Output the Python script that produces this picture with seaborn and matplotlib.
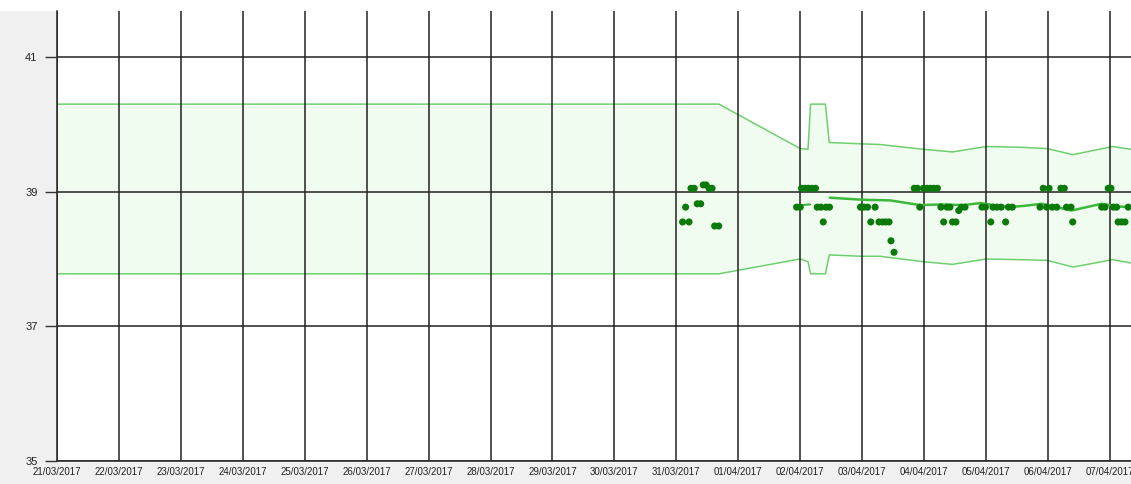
import matplotlib
matplotlib.use("Agg")
import matplotlib.pyplot as plt
import matplotlib.dates as mdates
from matplotlib.patches import Rectangle
import pandas as pd
import seaborn as sns

# Normal range band (upper / lower limits)
band_times = [
    "2017-03-21 00:00", "2017-03-31 16:30", "2017-04-02 00:00", "2017-04-02 03:00",
    "2017-04-02 04:00", "2017-04-02 09:45", "2017-04-02 11:15", "2017-04-03 00:00",
    "2017-04-03 07:00", "2017-04-03 23:30", "2017-04-04 11:00", "2017-04-05 00:00",
    "2017-04-05 13:00", "2017-04-05 23:30", "2017-04-06 09:45", "2017-04-07 01:00",
    "2017-04-07 08:10",
]
band_upper = [40.30, 40.30, 39.64, 39.63, 40.30, 40.30, 39.73, 39.71,
              39.70, 39.63, 39.59, 39.67, 39.66, 39.64, 39.55, 39.67, 39.63]
band_lower = [37.78, 37.78, 38.00, 37.96, 37.78, 37.78, 38.06, 38.04,
              38.04, 37.96, 37.92, 38.00, 37.99, 37.98, 37.88, 37.99, 37.94]

# Rolling mean line
mean_times = [
    "2017-04-02 11:30", "2017-04-03 00:00", "2017-04-03 10:50", "2017-04-03 22:30",
    "2017-04-04 06:15", "2017-04-04 15:10", "2017-04-04 21:45", "2017-04-05 08:30",
    "2017-04-05 15:00", "2017-04-05 21:30", "2017-04-06 09:10", "2017-04-06 20:45",
    "2017-04-07 03:05", "2017-04-07 08:10",
]
mean_values = [38.91, 38.88, 38.87, 38.80, 38.81, 38.80, 38.83, 38.77,
               38.79, 38.82, 38.72, 38.82, 38.78, 38.77]

# Short early mean segment
seg_times = ["2017-04-02 00:00", "2017-04-02 03:50"]
seg_values = [38.80, 38.81]

# Individual readings
reading_times = [
    "2017-03-31 02:25", "2017-03-31 03:35", "2017-03-31 04:55", "2017-03-31 05:40",
    "2017-03-31 06:55", "2017-03-31 08:05", "2017-03-31 09:25", "2017-03-31 10:25",
    "2017-03-31 11:30", "2017-03-31 12:40", "2017-03-31 13:50", "2017-03-31 14:50",
    "2017-03-31 16:25",
    "2017-04-01 22:35", "2017-04-02 00:00", "2017-04-02 00:30", "2017-04-02 01:50",
    "2017-04-02 03:10", "2017-04-02 04:30", "2017-04-02 05:55", "2017-04-02 06:35",
    "2017-04-02 08:00", "2017-04-02 08:55", "2017-04-02 10:00", "2017-04-02 11:20",
    "2017-04-02 23:20", "2017-04-03 00:40", "2017-04-03 02:05", "2017-04-03 03:20",
    "2017-04-03 05:00", "2017-04-03 06:30", "2017-04-03 07:55", "2017-04-03 09:10",
    "2017-04-03 10:25", "2017-04-03 11:10", "2017-04-03 12:20", "2017-04-03 20:10",
    "2017-04-03 21:25", "2017-04-03 22:20", "2017-04-03 23:45", "2017-04-04 01:05",
    "2017-04-04 02:25", "2017-04-04 03:50", "2017-04-04 05:10", "2017-04-04 06:30",
    "2017-04-04 07:35", "2017-04-04 08:55", "2017-04-04 10:00", "2017-04-04 11:00",
    "2017-04-04 12:20", "2017-04-04 13:25", "2017-04-04 14:30", "2017-04-04 15:50",
    "2017-04-04 22:25", "2017-04-04 23:45", "2017-04-05 01:50", "2017-04-05 02:40",
    "2017-04-05 04:10", "2017-04-05 05:50", "2017-04-05 07:35", "2017-04-05 08:40",
    "2017-04-05 10:10", "2017-04-05 20:55", "2017-04-05 22:10", "2017-04-05 23:30",
    "2017-04-06 00:25", "2017-04-06 01:40", "2017-04-06 03:25", "2017-04-06 05:00",
    "2017-04-06 06:20", "2017-04-06 07:10", "2017-04-06 08:55", "2017-04-06 09:35",
    "2017-04-06 20:50", "2017-04-06 22:05", "2017-04-06 23:20", "2017-04-07 00:25",
    "2017-04-07 01:20", "2017-04-07 02:35", "2017-04-07 03:10", "2017-04-07 04:30",
    "2017-04-07 05:50", "2017-04-07 07:05",
]
reading_values = [
    38.55, 38.77, 38.55, 39.05,
    39.05, 38.82, 38.82, 39.10,
    39.10, 39.05, 39.05, 38.49,
    38.49,
    38.77, 38.77, 39.05, 39.05,
    39.05, 39.05, 39.05, 38.77,
    38.77, 38.55, 38.77, 38.77,
    38.77, 38.77, 38.77, 38.55,
    38.77, 38.55, 38.55, 38.55,
    38.55, 38.27, 38.10, 39.05,
    39.05, 38.77, 39.05, 39.05,
    39.05, 39.05, 39.05, 38.77,
    38.55, 38.77, 38.77, 38.55,
    38.55, 38.72, 38.77, 38.77,
    38.77, 38.77, 38.55, 38.77,
    38.77, 38.77, 38.55, 38.77,
    38.77, 38.77, 39.05, 38.77,
    39.05, 38.77, 38.77, 39.05,
    39.05, 38.77, 38.77, 38.55,
    38.77, 38.77, 39.05, 39.05,
    38.77, 38.77, 38.55, 38.55,
    38.55, 38.77,
]

y_ticks = [35, 37, 39, 41]
x_start, x_end = "2017-03-21 00:00", "2017-04-07 08:10"

band = pd.DataFrame({"time": pd.to_datetime(band_times), "upper": band_upper, "lower": band_lower})
mean_df = pd.DataFrame({"time": pd.to_datetime(mean_times), "value": mean_values})
seg_df = pd.DataFrame({"time": pd.to_datetime(seg_times), "value": seg_values})
readings = pd.DataFrame({"time": pd.to_datetime(reading_times), "value": reading_values})

sns.set_style("white")
plt.rcParams["font.family"] = ["Liberation Sans", "DejaVu Sans"]

W, H = 1131, 484
fig = plt.figure(figsize=(W / 100, H / 100), dpi=100, facecolor="#f0f0f0")
fig.patches.append(Rectangle((0, 1 - 11 / H), 1, 11 / H, transform=fig.transFigure,
                             facecolor="white", edgecolor="none", zorder=-5))
ax = fig.add_axes([57 / W, 23 / H, 1 - 57 / W, (461 - 11) / H])
ax.set_facecolor("white")

band_green = "#6fcf6f"
ax.fill_between(band["time"], band["lower"], band["upper"], facecolor="#f0fcf0",
                edgecolor="none", zorder=1)
ax.plot(band["time"], band["upper"], color=band_green, lw=1.1, zorder=1.5)
ax.plot(band["time"], band["lower"], color=band_green, lw=1.1, zorder=1.5)

sns.lineplot(data=mean_df, x="time", y="value", ax=ax, color="#3cb83c", lw=1.8,
             estimator=None, sort=False, zorder=3)
sns.lineplot(data=seg_df, x="time", y="value", ax=ax, color="#3cb83c", lw=1.5,
             estimator=None, sort=False, zorder=3)
sns.scatterplot(data=readings, x="time", y="value", ax=ax, color="#0b7a0b", s=26,
                edgecolor="none", linewidth=0, zorder=4)

ax.set_xlim(pd.Timestamp(x_start), pd.Timestamp(x_end))
ax.set_ylim(35, 41.683)
ax.set_yticks(y_ticks)
ax.set_yticklabels([str(v) for v in y_ticks])
ax.xaxis.set_major_locator(mdates.DayLocator())
ax.xaxis.set_major_formatter(mdates.DateFormatter("%d/%m/%Y"))

ax.set_axisbelow(False)
ax.grid(True, color="#222222", lw=1.1, zorder=2.5)
for side in ["top", "right"]:
    ax.spines[side].set_visible(False)
for side in ["left", "bottom"]:
    ax.spines[side].set_color("#222222")
    ax.spines[side].set_linewidth(1.1)

ax.tick_params(axis="y", length=9, width=1, color="#333333", pad=5,
               labelsize=8, labelcolor="#222222", left=True)
ax.tick_params(axis="x", length=0, pad=4.5, labelsize=7, labelcolor="#222222")
ax.set_xlabel("")
ax.set_ylabel("")

fig.savefig("out.png", dpi=100, facecolor=fig.get_facecolor())
